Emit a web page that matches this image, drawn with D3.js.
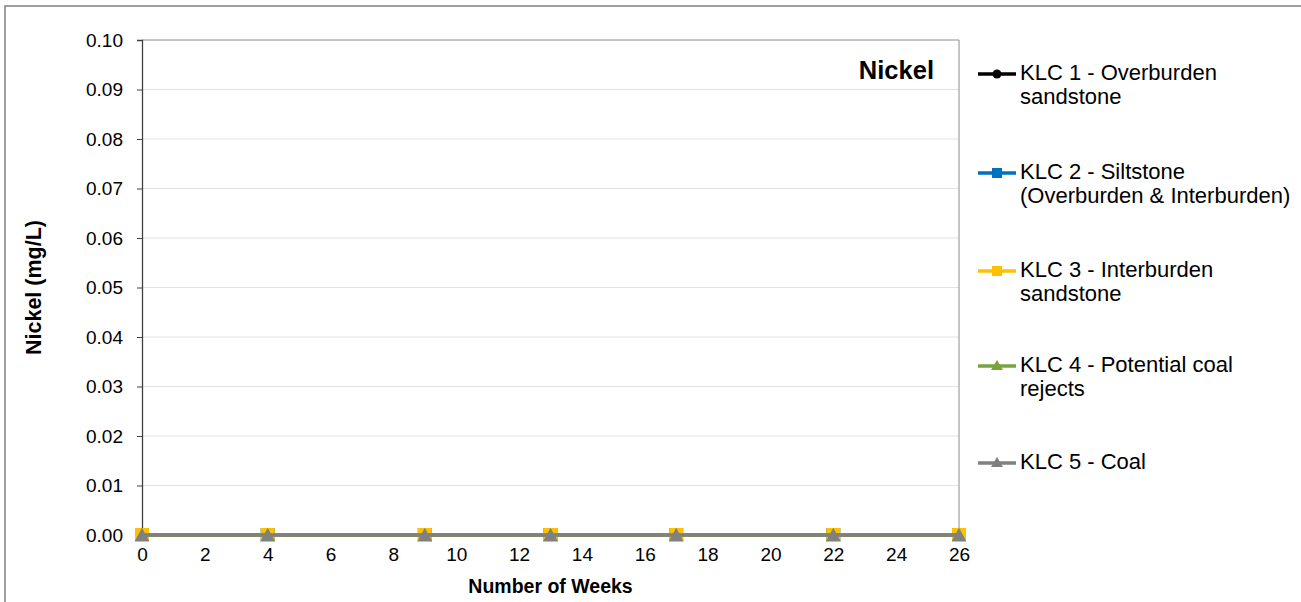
<!DOCTYPE html>
<html>
<head>
<meta charset="utf-8">
<script src="https://cdn.jsdelivr.net/npm/d3@7"></script>
<style>
  body { margin: 0; background: #fff; }
  svg { font-family: "Liberation Sans", Arial, sans-serif; }
</style>
</head>
<body>
<script>
const weeks = [0, 4, 9, 13, 17, 22, 26];
const seriesNames = [
    ['KLC 1 - Overburden', 'sandstone'],
    ['KLC 2 - Siltstone', '(Overburden & Interburden)'],
    ['KLC 3 - Interburden', 'sandstone'],
    ['KLC 4 - Potential coal', 'rejects'],
    ['KLC 5 - Coal']
];
const klc1 = [0, 0, 0, 0, 0, 0, 0];
const klc2 = [0, 0, 0, 0, 0, 0, 0];
const klc3 = [0, 0, 0, 0, 0, 0, 0];
const klc4 = [0, 0, 0, 0, 0, 0, 0];
const klc5 = [0, 0, 0, 0, 0, 0, 0];
const colors = ['#000000', '#0070c0', '#ffc000', '#77a43c', '#808080'];
const shapes = ['circle', 'square', 'square', 'triangle', 'triangle'];
const yTicks = [0, 0.01, 0.02, 0.03, 0.04, 0.05, 0.06, 0.07, 0.08, 0.09, 0.10];
const xTicks = d3.range(0, 27, 2);

const allSeries = [klc1, klc2, klc3, klc4, klc5];

const width = 1301;
const height = 602;
const plot = {left: 142, right: 959, top: 40, bottom: 535};
const fontFam = '"Liberation Sans", Arial, sans-serif';

const svg = d3.select('body').append('svg')
    .attr('width', width)
    .attr('height', height);

// outer chart border (cropped on right/bottom)
svg.append('rect')
    .attr('x', 5).attr('y', 6)
    .attr('width', width + 10).attr('height', height + 10)
    .attr('fill', 'none')
    .attr('stroke', '#808080')
    .attr('stroke-width', 1.5);

const x = d3.scaleLinear().domain([0, 26]).range([plot.left, plot.right]);
const y = d3.scaleLinear().domain([0, 0.1]).range([plot.bottom, plot.top]);

// gridlines
svg.append('g').selectAll('line').data(yTicks.slice(1, -1)).join('line')
    .attr('x1', plot.left).attr('x2', plot.right)
    .attr('y1', (d) => y(d)).attr('y2', (d) => y(d))
    .attr('stroke', '#e3e3e3').attr('stroke-width', 1);

// top and right borders of plot area
svg.append('path')
    .attr('d', `M${plot.left},${plot.top}H${plot.right}V${plot.bottom}`)
    .attr('fill', 'none').attr('stroke', '#8c8c8c').attr('stroke-width', 1);

// y axis
const yaxis = d3.axisLeft(y).tickValues(yTicks).tickFormat(d3.format('.2f')).tickSize(5).tickPadding(14);
const g_yaxis = svg.append('g').attr('transform', `translate(${plot.left},0)`).call(yaxis)
    .attr('font-size', 19).attr('font-family', fontFam);
g_yaxis.select('.domain').attr('stroke', '#404040').attr('stroke-width', 1.3);
g_yaxis.selectAll('.tick line').attr('stroke', '#404040');
g_yaxis.selectAll('text').attr('fill', '#000');

// x axis
const xaxis = d3.axisBottom(x).tickValues(xTicks).tickSize(0).tickPadding(13);
const g_xaxis = svg.append('g').attr('transform', `translate(0,${plot.bottom})`).call(xaxis)
    .attr('font-size', 19).attr('font-family', fontFam);
g_xaxis.select('.domain').attr('stroke', '#404040');
g_xaxis.selectAll('text').attr('fill', '#000');

// axis titles
svg.append('text')
    .attr('x', (plot.left + plot.right) / 2).attr('y', 593)
    .attr('text-anchor', 'middle').attr('font-weight', 'bold').attr('font-size', 19.5)
    .text('Number of Weeks');
svg.append('text')
    .attr('transform', `translate(41,${(plot.top + plot.bottom) / 2}) rotate(-90)`)
    .attr('text-anchor', 'middle').attr('font-weight', 'bold').attr('font-size', 21.5)
    .text('Nickel (mg/L)');

// chart title inside plot
svg.append('text')
    .attr('x', 934).attr('y', 79)
    .attr('text-anchor', 'end').attr('font-weight', 'bold').attr('font-size', 25.5)
    .text('Nickel');

function marker(g, shape, color, cx, cy) {
    if (shape === 'circle') {
        g.append('circle').attr('cx', cx).attr('cy', cy).attr('r', 5).attr('fill', color);
    } else if (shape === 'square') {
        g.append('rect').attr('x', cx - 7).attr('y', cy - 7).attr('width', 14).attr('height', 14).attr('fill', color);
    } else {
        g.append('path').attr('d', `M${cx},${cy - 7}L${cx + 7},${cy + 6}L${cx - 7},${cy + 6}Z`).attr('fill', color);
    }
}

// series
const line = d3.line().x((d) => x(d[0])).y((d) => y(d[1]));
allSeries.forEach((vals, i) => {
    const pts = weeks.map((w, j) => [w, vals[j]]);
    const g = svg.append('g');
    g.append('path').datum(pts).attr('d', line)
        .attr('fill', 'none').attr('stroke', colors[i]).attr('stroke-width', 3.5);
    pts.forEach((p) => marker(g, shapes[i], colors[i], x(p[0]), y(p[1])));
});

// legend
const legendY = [74, 173, 271, 366, 463];
seriesNames.forEach((lines, i) => {
    const g = svg.append('g');
    const ly = legendY[i];
    g.append('line').attr('x1', 978).attr('x2', 1016).attr('y1', ly).attr('y2', ly)
        .attr('stroke', colors[i]).attr('stroke-width', 3.5);
    if (shapes[i] === 'circle') {
        g.append('circle').attr('cx', 997).attr('cy', ly).attr('r', 4.5).attr('fill', colors[i]);
    } else if (shapes[i] === 'square') {
        g.append('rect').attr('x', 992).attr('y', ly - 5).attr('width', 10).attr('height', 10).attr('fill', colors[i]);
    } else {
        g.append('path').attr('d', `M997,${ly - 6}L1003,${ly + 4}L991,${ly + 4}Z`).attr('fill', colors[i]);
    }
    const t = g.append('text').attr('x', 1020).attr('y', ly + 6).attr('font-size', 22).attr('fill', '#000');
    lines.forEach((s, k) => {
        t.append('tspan').attr('x', 1020).attr('dy', k === 0 ? 0 : 24).text(s);
    });
});
</script>
</body>
</html>
